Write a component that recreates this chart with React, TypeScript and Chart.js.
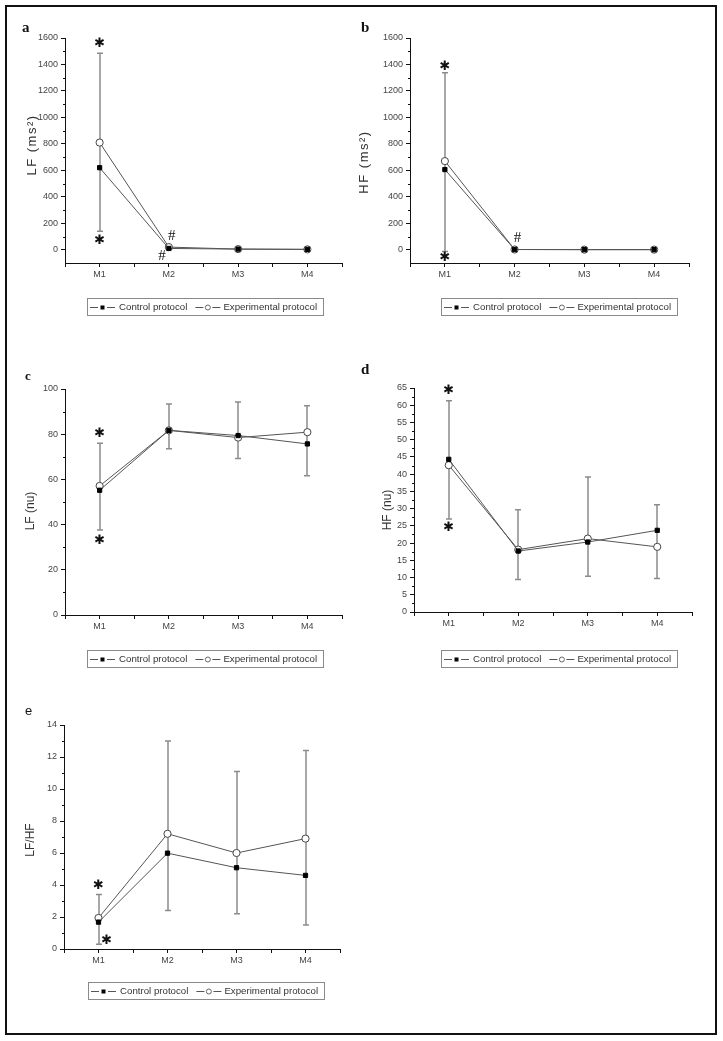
import React, { useEffect, useRef } from 'react';
import { Chart, registerables } from 'chart.js';

Chart.register(...registerables);

// ---------- data ----------
const categories = ['M1', 'M2', 'M3', 'M4'];
const seriesLabels = ['Control protocol', 'Experimental protocol'];

// (a) LF (ms²)
const lfMsControl = [620, 10, 5, 3];
const lfMsExperimental = [810, 20, 5, 3];
const lfMsErrLow: (number | null)[] = [140, null, null, null];
const lfMsErrHigh: (number | null)[] = [1485, null, null, null];
const lfMsTicks = [0, 200, 400, 600, 800, 1000, 1200, 1400, 1600];
const lfMsMarks: [string, number, number][] = [['✱', 1, 1555], ['✱', 1, 68], ['#', 2.04, 106], ['#', 1.9, -45]];

// (b) HF (ms²)
const hfMsControl = [606, 2, 1, 1];
const hfMsExperimental = [670, 2, 1, 1];
const hfMsErrLow: (number | null)[] = [-13, null, null, null];
const hfMsErrHigh: (number | null)[] = [1337, null, null, null];
const hfMsTicks = [0, 200, 400, 600, 800, 1000, 1200, 1400, 1600];
const hfMsMarks: [string, number, number][] = [['✱', 1, 1382], ['✱', 1, -58], ['#', 2.04, 90]];

// (c) LF (nu)
const lfNuControl = [55.2, 81.7, 79.4, 75.7];
const lfNuExperimental = [57.1, 81.7, 78.5, 80.9];
const lfNuErrLow: (number | null)[] = [37.6, 73.6, 69.2, 61.6];
const lfNuErrHigh: (number | null)[] = [76, 93.4, 94.3, 92.6];
const lfNuTicks = [0, 20, 40, 60, 80, 100];
const lfNuMarks: [string, number, number][] = [['✱', 1, 80.3], ['✱', 1, 33]];

// (d) HF (nu)
const hfNuControl = [44.3, 17.7, 20.3, 23.7];
const hfNuExperimental = [42.6, 18.1, 21.3, 18.9];
const hfNuErrLow: (number | null)[] = [27, 9.4, 10.4, 9.7];
const hfNuErrHigh: (number | null)[] = [61.3, 29.7, 39.2, 31.1];
const hfNuTicks = [0, 5, 10, 15, 20, 25, 30, 35, 40, 45, 50, 55, 60, 65];
const hfNuMarks: [string, number, number][] = [['✱', 1, 64.2], ['✱', 1, 24.5]];

// (e) LF/HF
const ratioControl = [1.68, 5.99, 5.08, 4.6];
const ratioExperimental = [1.94, 7.2, 6.0, 6.9];
const ratioErrLow: (number | null)[] = [0.3, 2.4, 2.2, 1.5];
const ratioErrHigh: (number | null)[] = [3.4, 13.0, 11.1, 12.4];
const ratioTicks = [0, 2, 4, 6, 8, 10, 12, 14];
const ratioMarks: [string, number, number][] = [['✱', 1, 3.95], ['✱', 1.12, 0.55]];

const xTickValues = [0.5, 1, 1.5, 2, 2.5, 3, 3.5, 4, 4.5];

// ---------- layout ----------
type Panel = {
  letter: string;
  letterStyle: React.CSSProperties;
  plot: { l: number; t: number; r: number; b: number };
  yMin: number;
  yMax: number;
  yTicks: number[];
  title: string;
  titleX: number;
  titleY: number;
  titleFont: string;
  titleSpacing: string;
  control: number[];
  experimental: number[];
  errLow: (number | null)[];
  errHigh: (number | null)[];
  marks: [string, number, number][];
  legendLeft: number;
  legendTop: number;
};

const serifBold = '"Liberation Serif", "Times New Roman", serif';
const sans = '"Liberation Sans", Arial, sans-serif';

const PANELS: Panel[] = [
  {
    letter: 'a', letterStyle: { left: 22, top: 20, fontFamily: serifBold, fontWeight: 'bold', fontSize: 15 },
    plot: { l: 65, t: 38, r: 342, b: 263 }, yMin: -100, yMax: 1600, yTicks: lfMsTicks,
    title: 'LF (ms²)', titleX: 32, titleY: 145, titleFont: `13px ${sans}`, titleSpacing: '1.5px',
    control: lfMsControl, experimental: lfMsExperimental, errLow: lfMsErrLow, errHigh: lfMsErrHigh, marks: lfMsMarks,
    legendLeft: 87, legendTop: 298,
  },
  {
    letter: 'b', letterStyle: { left: 361, top: 20, fontFamily: serifBold, fontWeight: 'bold', fontSize: 15 },
    plot: { l: 410, t: 38, r: 689, b: 263 }, yMin: -100, yMax: 1600, yTicks: hfMsTicks,
    title: 'HF (ms²)', titleX: 364, titleY: 162, titleFont: `13px ${sans}`, titleSpacing: '1.5px',
    control: hfMsControl, experimental: hfMsExperimental, errLow: hfMsErrLow, errHigh: hfMsErrHigh, marks: hfMsMarks,
    legendLeft: 441, legendTop: 298,
  },
  {
    letter: 'c', letterStyle: { left: 25, top: 369, fontFamily: serifBold, fontWeight: 'bold', fontSize: 13 },
    plot: { l: 65, t: 389, r: 342, b: 615 }, yMin: 0, yMax: 100, yTicks: lfNuTicks,
    title: 'LF (nu)', titleX: 31, titleY: 511, titleFont: `12px ${sans}`, titleSpacing: '0px',
    control: lfNuControl, experimental: lfNuExperimental, errLow: lfNuErrLow, errHigh: lfNuErrHigh, marks: lfNuMarks,
    legendLeft: 87, legendTop: 650,
  },
  {
    letter: 'd', letterStyle: { left: 361, top: 362, fontFamily: serifBold, fontWeight: 'bold', fontSize: 15 },
    plot: { l: 414, t: 388, r: 692, b: 612 }, yMin: 0, yMax: 65, yTicks: hfNuTicks,
    title: 'HF (nu)', titleX: 388, titleY: 510, titleFont: `12px ${sans}`, titleSpacing: '0px',
    control: hfNuControl, experimental: hfNuExperimental, errLow: hfNuErrLow, errHigh: hfNuErrHigh, marks: hfNuMarks,
    legendLeft: 441, legendTop: 650,
  },
  {
    letter: 'e', letterStyle: { left: 25, top: 704, fontFamily: sans, fontWeight: 'normal', fontSize: 13 },
    plot: { l: 64, t: 725, r: 340, b: 949 }, yMin: 0, yMax: 14, yTicks: ratioTicks,
    title: 'LF/HF', titleX: 31, titleY: 840, titleFont: `12px ${sans}`, titleSpacing: '0px',
    control: ratioControl, experimental: ratioExperimental, errLow: ratioErrLow, errHigh: ratioErrHigh, marks: ratioMarks,
    legendLeft: 88, legendTop: 982,
  },
];

const YW = 60; // y-scale box width
const PT = 20; // top padding
const PR = 10; // right padding
const XH = 20; // x-scale box height
const PB = 50; // bottom padding (legend room)

function geom(p: Panel) {
  return {
    x: p.plot.l - YW,
    y: p.plot.t - PT,
    w: YW + (p.plot.r - p.plot.l) + PR,
    h: PT + (p.plot.b - p.plot.t) + XH + PB,
  };
}

function makeDecor(p: Panel, g: { x: number; y: number; w: number; h: number }) {
  return {
    id: 'decor',
    beforeDatasetsDraw(chart: any) {
      const { ctx, chartArea: ca } = chart;
      const xs = chart.scales.x;
      const ys = chart.scales.y;
      ctx.save();
      // minor y ticks
      ctx.strokeStyle = '#111';
      ctx.lineWidth = 1;
      for (let i = 0; i < p.yTicks.length - 1; i++) {
        const v = (p.yTicks[i] + p.yTicks[i + 1]) / 2;
        const py = Math.round(ys.getPixelForValue(v)) + 0.5;
        ctx.beginPath();
        ctx.moveTo(ca.left - 2, py);
        ctx.lineTo(ca.left, py);
        ctx.stroke();
      }
      // error bars
      ctx.strokeStyle = '#8c8c8c';
      ctx.lineWidth = 1.5;
      p.errLow.forEach((lo, i) => {
        const hi = p.errHigh[i];
        if (lo == null || hi == null) return;
        const px = Math.round(xs.getPixelForValue(i + 1));
        const y1 = ys.getPixelForValue(lo);
        const y2 = ys.getPixelForValue(hi);
        ctx.beginPath();
        ctx.moveTo(px, y1);
        ctx.lineTo(px, y2);
        ctx.moveTo(px - 3, y1);
        ctx.lineTo(px + 3, y1);
        ctx.moveTo(px - 3, y2);
        ctx.lineTo(px + 3, y2);
        ctx.stroke();
      });
      ctx.restore();
    },
    afterDraw(chart: any) {
      const { ctx } = chart;
      const xs = chart.scales.x;
      const ys = chart.scales.y;
      ctx.save();
      // axis title
      ctx.save();
      ctx.translate(p.titleX - g.x, p.titleY - g.y);
      ctx.rotate(-Math.PI / 2);
      ctx.font = p.titleFont;
      try { (ctx as any).letterSpacing = p.titleSpacing; } catch (e) { /* ignore */ }
      ctx.fillStyle = '#333';
      ctx.textAlign = 'center';
      ctx.textBaseline = 'middle';
      ctx.fillText(p.title, 0, 0);
      try { (ctx as any).letterSpacing = '0px'; } catch (e) { /* ignore */ }
      ctx.restore();

      // significance marks
      p.marks.forEach(([s, xv, yv]) => {
        ctx.font = s === '#' ? `15px ${serifBold}` : `bold 13px "DejaVu Sans", sans-serif`;
        ctx.fillStyle = '#111';
        ctx.textAlign = 'center';
        ctx.textBaseline = 'middle';
        ctx.fillText(s, xs.getPixelForValue(xv), ys.getPixelForValue(yv));
      });

      // legend
      const lx = p.legendLeft - g.x;
      const ly = p.legendTop - g.y;
      const h = 17;
      ctx.font = `9.7px ${sans}`;
      const w0 = ctx.measureText(seriesLabels[0]).width;
      const w1 = ctx.measureText(seriesLabels[1]).width;
      const iconW = 25;
      const total = 3 + iconW + 4 + w0 + 8 + iconW + 3 + w1 + 6;
      ctx.strokeStyle = '#8a8a8a';
      ctx.lineWidth = 1;
      ctx.strokeRect(Math.round(lx) + 0.5, Math.round(ly) + 0.5, Math.round(total), h);
      const cy = Math.round(ly + h / 2) + 0.5;
      const drawIcon = (x0: number, kind: number) => {
        ctx.strokeStyle = '#555';
        ctx.lineWidth = 1;
        ctx.beginPath();
        ctx.moveTo(x0, cy);
        ctx.lineTo(x0 + 8, cy);
        ctx.moveTo(x0 + 17, cy);
        ctx.lineTo(x0 + 25, cy);
        ctx.stroke();
        const mx = x0 + 12.5;
        if (kind === 0) {
          ctx.fillStyle = '#000';
          ctx.fillRect(mx - 2, cy - 2, 4, 4);
        } else {
          ctx.beginPath();
          ctx.arc(mx, cy, 2.5, 0, Math.PI * 2);
          ctx.fillStyle = '#fff';
          ctx.fill();
          ctx.strokeStyle = '#666';
          ctx.stroke();
        }
      };
      let cx = lx + 3;
      drawIcon(cx, 0);
      cx += iconW + 4;
      ctx.fillStyle = '#333';
      ctx.textAlign = 'left';
      ctx.textBaseline = 'middle';
      ctx.font = `9.7px ${sans}`;
      ctx.fillText(seriesLabels[0], cx, cy);
      cx += w0 + 8;
      drawIcon(cx, 1);
      cx += iconW + 3;
      ctx.fillStyle = '#333';
      ctx.font = `9.7px ${sans}`;
      ctx.fillText(seriesLabels[1], cx, cy);
      ctx.restore();
    },
  };
}

function makeChart(canvas: HTMLCanvasElement, p: Panel) {
  const g = geom(p);
  const tickFont = { size: 9, family: sans };
  return new Chart(canvas, {
    type: 'line',
    data: {
      datasets: [
        {
          label: seriesLabels[0],
          data: p.control.map((v, i) => ({ x: i + 1, y: v })),
          borderColor: '#555',
          borderWidth: 1,
          pointStyle: 'rect',
          pointRadius: 3,
          pointBackgroundColor: '#000',
          pointBorderColor: '#000',
          pointBorderWidth: 1,
          tension: 0,
        },
        {
          label: seriesLabels[1],
          data: p.experimental.map((v, i) => ({ x: i + 1, y: v })),
          borderColor: '#555',
          borderWidth: 1,
          pointStyle: 'circle',
          pointRadius: 3.6,
          pointBackgroundColor: '#fff',
          pointBorderColor: '#444',
          pointBorderWidth: 1,
          tension: 0,
        },
      ],
    },
    options: {
      animation: false,
      responsive: false,
      events: [],
      layout: { padding: { left: 0, top: PT, right: PR, bottom: PB } },
      plugins: { legend: { display: false }, tooltip: { enabled: false } },
      scales: {
        x: {
          type: 'linear',
          min: 0.5,
          max: 4.5,
          afterBuildTicks: (s: any) => {
            s.ticks = xTickValues.map((v) => ({ value: v }));
          },
          afterFit: (s: any) => {
            s.height = XH;
          },
          ticks: {
            autoSkip: false,
            maxRotation: 0,
            padding: 2,
            font: tickFont,
            color: '#444',
            callback: (v: any) => (Number.isInteger(v) ? categories[v - 1] : ''),
          },
          grid: { drawOnChartArea: false, drawTicks: true, tickLength: 4, color: '#111' },
          border: { display: true, color: '#111', width: 1 },
        },
        y: {
          type: 'linear',
          min: p.yMin,
          max: p.yMax,
          afterBuildTicks: (s: any) => {
            s.ticks = p.yTicks.map((v) => ({ value: v }));
          },
          afterFit: (s: any) => {
            s.width = YW;
          },
          ticks: { padding: 3, font: tickFont, color: '#444', callback: (v: any) => String(v) },
          grid: { drawOnChartArea: false, drawTicks: true, tickLength: 4, color: '#111' },
          border: { display: true, color: '#111', width: 1 },
        },
      },
    } as any,
    plugins: [makeDecor(p, g)],
  });
}

export default function App() {
  const refs = useRef<(HTMLCanvasElement | null)[]>([]);
  useEffect(() => {
    document.body.style.margin = '0';
    const charts = PANELS.map((p, i) => makeChart(refs.current[i] as HTMLCanvasElement, p));
    return () => charts.forEach((c) => c.destroy());
  }, []);
  return (
    <div style={{ position: 'absolute', left: 0, top: 0, width: 723, height: 1041, background: '#fff', overflow: 'hidden' }}>
      <div
        style={{
          position: 'absolute', left: 5, top: 5, width: 712, height: 1030,
          border: '2px solid #111', boxSizing: 'border-box',
        }}
      />
      {PANELS.map((p, i) => {
        const g = geom(p);
        return (
          <canvas
            key={p.letter}
            ref={(el) => { refs.current[i] = el; }}
            width={g.w}
            height={g.h}
            style={{ position: 'absolute', left: g.x, top: g.y, width: g.w, height: g.h }}
          />
        );
      })}
      {PANELS.map((p) => (
        <div key={'l' + p.letter} style={{ position: 'absolute', lineHeight: 1, color: '#111', ...p.letterStyle }}>
          {p.letter}
        </div>
      ))}
    </div>
  );
}
